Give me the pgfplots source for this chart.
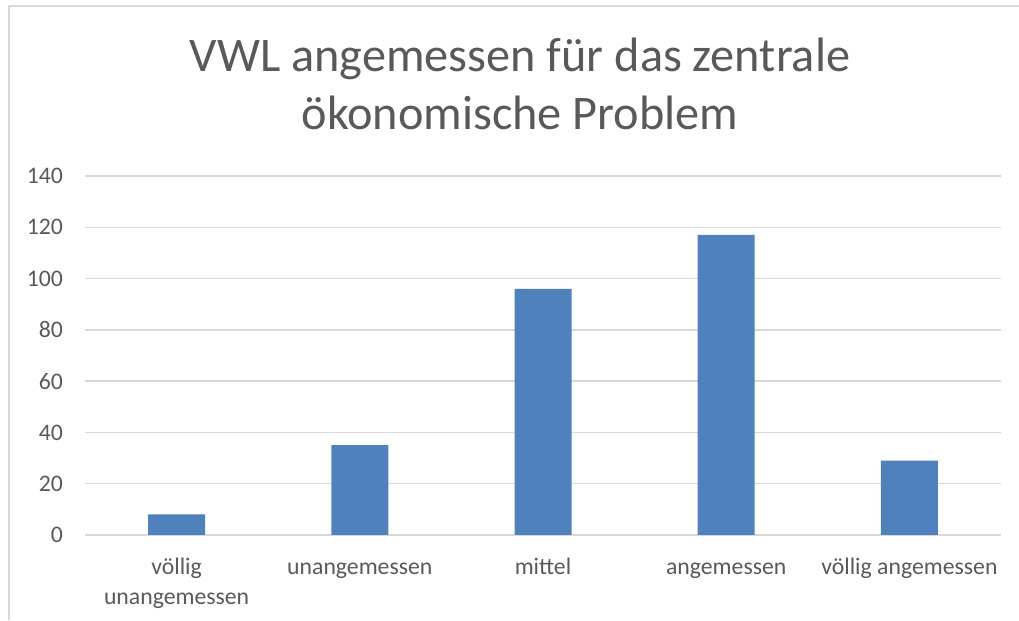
\documentclass[border=0pt]{standalone}
\usepackage{pgfplots}
\pgfplotsset{compat=1.18}
\usepackage{fontspec}
\setmainfont{Carlito}
\definecolor{barblue}{HTML}{4F81BD}
\definecolor{txtgray}{HTML}{595959}
\definecolor{gridgray}{HTML}{D9D9D9}
\begin{document}
\begin{tikzpicture}
\path[use as bounding box] (0,0) rectangle (764.25pt,465pt);
\draw[gridgray, line width=1.5pt] (7pt,0) -- (7pt,460.5pt) -- (764.25pt,460.5pt);
\node[txtgray, font=\fontsize{36.2}{43.5}\selectfont, align=center, anchor=base] at (390pt,367.5pt) {VWL angemessen für das zentrale\\ökonomische Problem};
\begin{axis}[
  at={(63.75pt,63.75pt)}, anchor=south west,
  scale only axis, width=687pt, height=269.25pt,
  ybar, bar width=42.75pt,
  xmin=-0.5, xmax=4.5, ymin=0, ymax=140,
  ytick={0,20,...,140},
  xtick={0,1,2,3,4},
  xticklabels={{\strut völlig\\\strut unangemessen},\strut unangemessen,\strut mittel,\strut angemessen,\strut völlig angemessen},
  xticklabel style={align=center, font=\fontsize{17.8}{22.5}\selectfont, text=txtgray, anchor=north, yshift=-14pt, inner ysep=0pt},
  yticklabel style={font=\fontsize{17.8}{19}\selectfont, text=txtgray, xshift=-13pt},
  /pgf/number format/assume math mode=true,
  ymajorgrids, grid style={gridgray, line width=1pt},
  axis line style={draw=none},
  axis x line*=bottom,
  x axis line style={gridgray, line width=1pt},
  major tick length=0pt,
  enlargelimits=false,
  clip=false,
]
\addplot[fill=barblue, draw=none] coordinates {(0,8) (1,35) (2,96) (3,117) (4,29)};
\end{axis}
\end{tikzpicture}
\end{document}
